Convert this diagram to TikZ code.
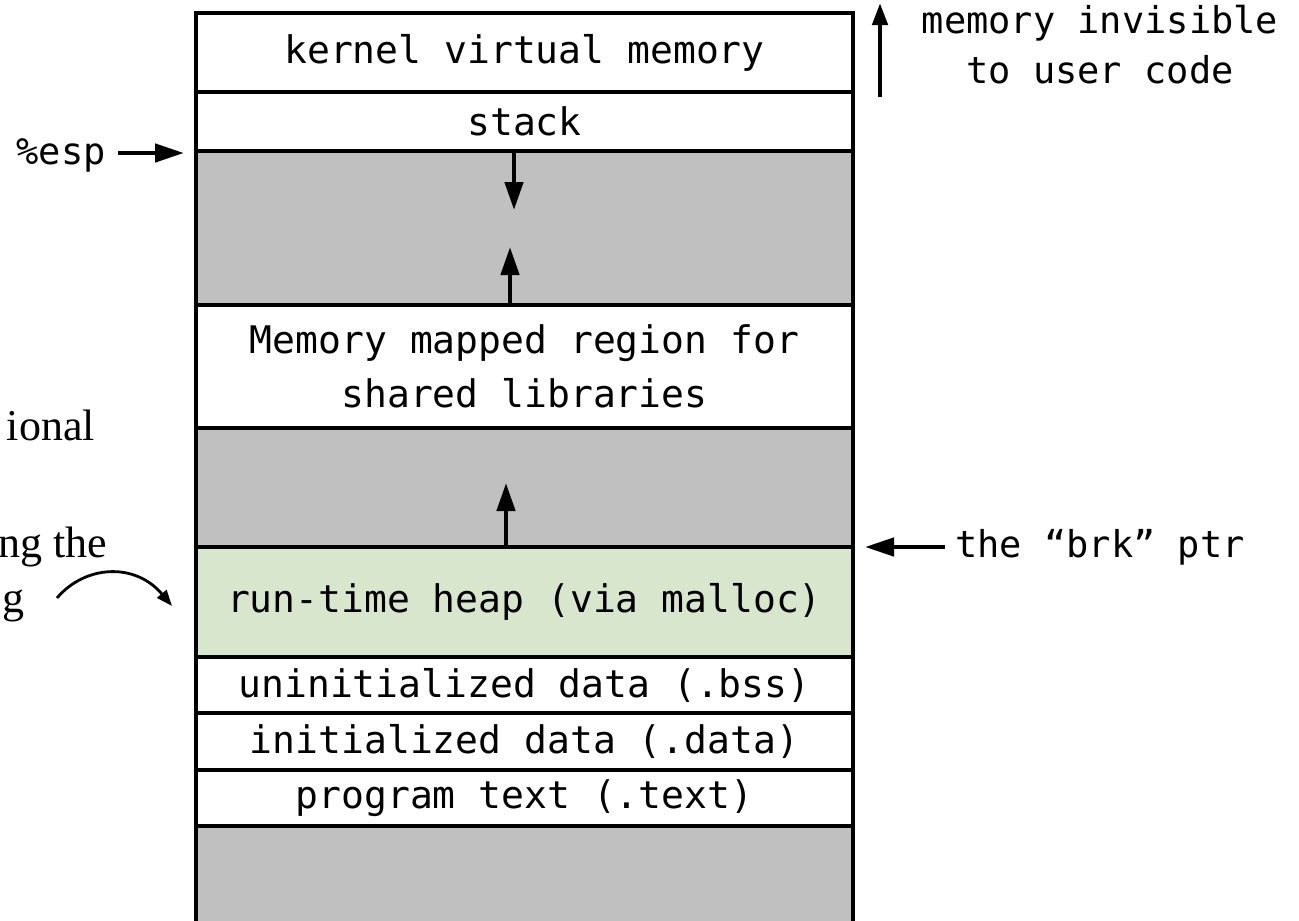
\documentclass[tikz,border=0pt]{standalone}
\usepackage{fontspec}
\setmainfont{Liberation Serif}
\setmonofont{DejaVu Sans Mono}
\usetikzlibrary{arrows.meta,calc}
\definecolor{gapgray}{RGB}{192,192,192}
\definecolor{heapgreen}{RGB}{216,230,206}
\tikzset{
  row/.style={draw=black, line width=4.5pt, minimum width=657pt, inner sep=0pt, outer sep=0pt,
    font=\fontsize{38}{54}\selectfont\ttfamily, align=center},
  gaprow/.style={row, fill=gapgray},
  lbl/.style={font=\fontsize{37}{50}\selectfont\ttfamily, inner sep=0pt, align=center},
  side/.style={font=\fontsize{44}{57}\selectfont\rmfamily, inner sep=0pt},
  arr/.style={line width=4.5pt, -{Triangle[length=28pt,width=18pt]}},
  sarr/.style={line width=4.5pt, -{Triangle[length=29pt,width=18pt]}},
  tarr/.style={line width=4.5pt, -{Triangle[length=22pt,width=15pt]}}
}
\begin{document}
\begin{tikzpicture}[x=1pt,y=-1pt]
\useasboundingbox (0,0) rectangle (1299,921);
% rows
\node[row, minimum height=79pt] (kernel) at (524.5,52.5) {kernel virtual memory};
\node[row, minimum height=59pt] (stack) at (524.5,121.5) {stack};
\node[gaprow, minimum height=154pt] (gapA) at (524.5,228) {};
\node[row, minimum height=123pt] (mmap) at (524.5,366.5) {Memory mapped region for\\shared libraries};
\node[gaprow, minimum height=119pt] (gapB) at (524.5,487.5) {};
\node[row, fill=heapgreen, minimum height=110pt] (heap) at (524.5,602) {run-time heap (via malloc)};
\node[row, minimum height=56pt] (bss) at (524.5,685) {uninitialized data (.bss)};
\node[row, minimum height=57pt] (data) at (524.5,741.5) {initialized data (.data)};
\node[row, minimum height=56pt] (text) at (524.5,798) {program text (.text)};
\node[gaprow, minimum height=140pt] (bottom) at (524.5,896) {};
% growth arrows
\draw[arr] ($(gapA.north)+(-10.5,0)$) -- ($(gapA.north)+(-10.5,59)$);
\draw[arr] ($(gapA.south)+(-14.5,0)$) -- ($(gapA.south)+(-14.5,-58)$);
\draw[arr] ($(gapB.south)+(-18.5,0)$) -- ($(gapB.south)+(-18.5,-64)$);
% esp
\node[lbl, anchor=east] (esp) at (106,155) {\%esp};
\coordinate (espTip) at ($(gapA.north west)+(-12,2)$);
\draw[sarr] (esp.east |- espTip) ++(12,0) -- (espTip);
% kernel note
\coordinate (invTop) at (880,3);
\coordinate (invBot) at (880,97);
\draw[tarr] (invBot) -- (invTop);
\node[lbl, anchor=north] (inv) at (1100,5) {memory invisible\\to user code};
% brk
\node[lbl, anchor=west] (brk) at (955,547) {the “brk” ptr};
\coordinate (brkTip) at ($(heap.north east)+(12,0)$);
\draw[sarr] ($(brk.west)+(-10,0)$) -- (brkTip);
% left clipped text
\node[side, anchor=base east] (t1) at (95,440) {ional};
\node[side, anchor=base east] (t2) at (107,557) {ng the};
\node[side, anchor=base east] (t3) at (25,612) {g};
\coordinate (cstart) at (57,598);
\coordinate (cend) at (172,606);
\draw[line width=2.8pt, -{Triangle[length=16pt,width=12pt]}] (cstart) .. controls (85,565) and (135,562) .. (cend);
\end{tikzpicture}
\end{document}
